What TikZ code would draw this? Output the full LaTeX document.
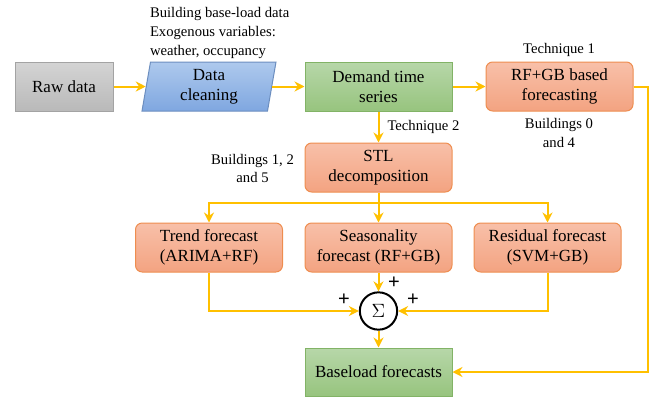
\documentclass[tikz,border=0pt]{standalone}
\usepackage{fontspec}
\setmainfont{Liberation Serif}
\newfontfamily\plusfont{Liberation Sans}
\usetikzlibrary{arrows.meta,shapes.geometric}

\definecolor{flowline}{HTML}{FFC000}
\definecolor{rawtop}{HTML}{D4D4D4}
\definecolor{rawbot}{HTML}{B9B9B9}
\definecolor{rawline}{HTML}{A3A3A3}
\definecolor{cleantop}{HTML}{AEC9ED}
\definecolor{cleanbot}{HTML}{7FA7E0}
\definecolor{cleanline}{HTML}{6C8EBF}
\definecolor{seriestop}{HTML}{B7D7A9}
\definecolor{seriesbot}{HTML}{97C47E}
\definecolor{seriesline}{HTML}{82B366}
\definecolor{fcasttop}{HTML}{F8C0A9}
\definecolor{fcastbot}{HTML}{F3A381}
\definecolor{fcastline}{HTML}{EE8D4F}

\tikzset{every picture/.style={line width=0.75pt}}
\tikzset{
  boxtext/.style={font=\rmfamily\fontsize{12.75}{15}\selectfont, align=center, inner sep=0.75pt},
  stepbox/.style={boxtext, draw, minimum width=110.25pt, minimum height=36.75pt},
  rawbox/.style={stepbox, minimum width=73.5pt, draw=rawline, top color=rawtop, bottom color=rawbot},
  seriesbox/.style={stepbox, draw=seriesline, top color=seriestop, bottom color=seriesbot},
  fcastbox/.style={stepbox, draw=fcastline, top color=fcasttop, bottom color=fcastbot, rounded corners=5pt},
  cleanbox/.style={boxtext, draw=cleanline, top color=cleantop, bottom color=cleanbot,
    trapezium, trapezium left angle=77, trapezium right angle=103, trapezium stretches body,
    minimum width=100.5pt, minimum height=36.75pt},
  sumnode/.style={circle, draw=black, line width=1.5pt, fill=white, minimum size=28pt, inner sep=0pt,
    font=\rmfamily\fontsize{14}{14}\selectfont},
  flow/.style={draw=flowline, line width=1.5pt, -{Stealth[length=7.5pt,width=7.5pt,inset=2.5pt]}},
  note/.style={font=\rmfamily\fontsize{11}{13.9}\selectfont, inner sep=0.75pt},
  plus/.style={font=\plusfont\fontsize{15}{15}\selectfont, inner sep=0pt},
}

\begin{document}
\begin{tikzpicture}[x=0.75pt,y=0.75pt,yscale=-1,xscale=1]
        \useasboundingbox (0,0) rectangle (658,397);

        %Shape: Rectangle [raw]
        \node [rawbox] (raw) at (64,86.5) {Raw data};
        %Shape: Parallelogram [clean]
        \node [cleanbox] (clean) at (209,86.5) {Data\\cleaning};
        %Shape: Rectangle [demand]
        \node [seriesbox] (demand) at (378.5,86.5) {Demand time\\series};
        %Shape: Rectangle [rfgb]
        \node [fcastbox] (rfgb) at (559.5,86.5) {RF+GB based\\forecasting};

        %Shape: Rectangle [stl]
        \node [fcastbox] (stl) at (378.5,167.5) {STL\\decomposition};

        %Shape: Rectangle [trend]
        \node [fcastbox] (trend) at (209,247.5) {Trend forecast\\(ARIMA+RF)};
        %Shape: Rectangle [season]
        \node [fcastbox] (season) at (378.5,247.5) {Seasonality\\forecast (RF+GB)};
        %Shape: Rectangle [resid]
        \node [fcastbox] (resid) at (547.5,247.5) {Residual forecast\\(SVM+GB)};

        %Shape: Circle [sum]
        \node [sumnode] (sum) at (378.5,311) {$\Sigma$};

        %Shape: Rectangle [base]
        \node [seriesbox, minimum height=36pt] (base) at (378.5,372) {Baseload forecasts};

        \coordinate (split) at (378.5,203);
        \coordinate (rturn) at (648,86.5);

        %Straight Lines
        \draw [flow] (raw.east) -- (clean.left side);
        \draw [flow] (clean.right side) -- (demand.west);
        \draw [flow] (demand.east) -- (rfgb.west);
        \draw [flow] (demand.south) -- (stl.north);
        \draw [flow] (stl.south) -- (season.north);
        \draw [flow] (split) -| (trend.north);
        \draw [flow] (split) -| (resid.north);
        \draw [flow] (trend.south) |- (sum.west);
        \draw [flow] (season.south) -- (sum.north);
        \draw [flow] (resid.south) |- (sum.east);
        \draw [flow] (sum.south) -- (base.north);
        \draw [flow] (rfgb.east) -- (rturn) |- (base.east);

        % Text Node
        \node [note, anchor=west, align=left] (inputs) at (148.5,33) {Building base-load data\\Exogenous variables:\\weather, occupancy};
        % Text Node
        \node [note] (tech1) at (559,50) {Technique 1};
        % Text Node
        \node [note, align=center] (bld04) at (559,133) {Buildings 0\\and 4};
        % Text Node
        \node [note, anchor=west] (tech2) at (386,127) {Technique 2};
        % Text Node
        \node [note, align=center] (bld125) at (252.5,168.5) {Buildings 1, 2\\and 5};
        % Text Node
        \node [plus] (plustop) at (394,283) {+};
        % Text Node
        \node [plus] (plusleft) at (344,300) {+};
        % Text Node
        \node [plus] (plusright) at (413,300) {+};
\end{tikzpicture}
\end{document}
